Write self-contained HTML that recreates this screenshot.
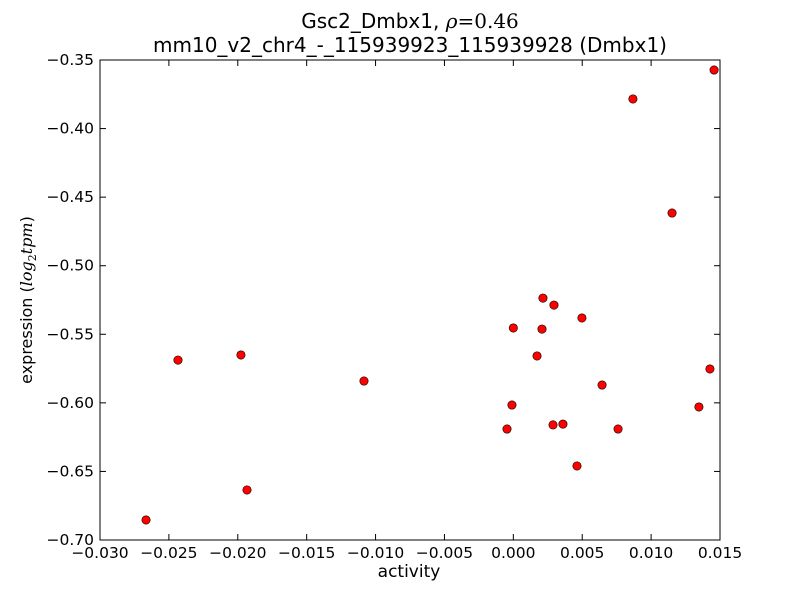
<!DOCTYPE html>
<html><head><meta charset="utf-8"><style>
body{margin:0;background:#fff}
svg{display:block;font-family:"DejaVu Sans","Liberation Sans",sans-serif}
</style></head><body>
<svg id="chart" width="800" height="600" viewBox="0 0 800 600">
<rect width="800" height="600" fill="#fff"/>
<text x="410" y="28" text-anchor="middle" font-size="20">Gsc2_Dmbx1, <tspan font-family="DejaVu Serif,serif" font-style="italic">ρ</tspan><tspan font-family="DejaVu Serif,serif">=0.46</tspan></text>
<text x="410" y="52" text-anchor="middle" font-size="20">mm10_v2_chr4_-_115939923_115939928 (Dmbx1)</text>
<text x="409" y="577" text-anchor="middle" font-size="17">activity</text>
<text transform="translate(32,300) rotate(-90)" text-anchor="middle" font-size="16">expression (<tspan font-family="DejaVu Serif,serif" font-style="italic">log</tspan><tspan font-family="DejaVu Serif,serif" font-size="11" dy="4">2</tspan><tspan font-family="DejaVu Serif,serif" font-style="italic" dy="-4">tpm</tspan>)</text>
<g id="ticks"></g>
<g id="points"></g>
<rect x="100" y="60" width="620" height="480" fill="none" stroke="#000" stroke-width="1"/>
</svg>
<script>
const xs=[0.01457,0.00868,0.01152,0.00215,0.00295,0.00498,0.0,0.00208,0.00172,-0.02434,-0.01977,-0.01084,0.00644,0.01427,0.01347,-0.0001,-0.00046,0.00288,0.0036,0.0076,0.00462,-0.01933,-0.02666];
const ys=[-0.3573,-0.3784,-0.4616,-0.5236,-0.5287,-0.5381,-0.5454,-0.5462,-0.5658,-0.5688,-0.5651,-0.5841,-0.587,-0.5753,-0.603,-0.6016,-0.6191,-0.6161,-0.6155,-0.6191,-0.646,-0.6635,-0.6854];
const xTicks=[-0.030,-0.025,-0.020,-0.015,-0.010,-0.005,0.000,0.005,0.010,0.015];
const yTicks=[-0.70,-0.65,-0.60,-0.55,-0.50,-0.45,-0.40,-0.35];
const xMin=-0.03,xMax=0.015,yMin=-0.70,yMax=-0.35;
const X=v=>100+(v-xMin)/(xMax-xMin)*620;
const Y=v=>540-(v-yMin)/(yMax-yMin)*480;
const NS="http://www.w3.org/2000/svg";
const tg=document.getElementById('ticks'),pg=document.getElementById('points');
function mk(t,a,p){const e=document.createElementNS(NS,t);for(const k in a)e.setAttribute(k,a[k]);p.appendChild(e);return e;}
const fmt=(v,d)=>(v<0?'\u2212':'')+Math.abs(v).toFixed(d);
xTicks.forEach(v=>{const x=X(v);
 let l=mk('line',{x1:x,x2:x,y1:540,y2:534,stroke:'#000'},tg);
 l=mk('line',{x1:x,x2:x,y1:60,y2:66,stroke:'#000'},tg);
 const t=mk('text',{x:x,y:558,'text-anchor':'middle','font-size':15.5},tg);t.textContent=fmt(v,3);
 });
yTicks.forEach(v=>{const y=Y(v);
 let l=mk('line',{x1:100,x2:106,y1:y,y2:y,stroke:'#000'},tg);
 l=mk('line',{x1:714,x2:720,y1:y,y2:y,stroke:'#000'},tg);
 const t=mk('text',{x:94,y:y+5,'text-anchor':'end','font-size':15.5},tg);t.textContent=fmt(v,2);
 });
xs.forEach((v,i)=>{const c=mk('circle',{cx:X(v),cy:Y(ys[i]),r:4.2,fill:'#ff0000',stroke:'#000','stroke-width':0.6},pg);
 });
</script>
</body></html>
